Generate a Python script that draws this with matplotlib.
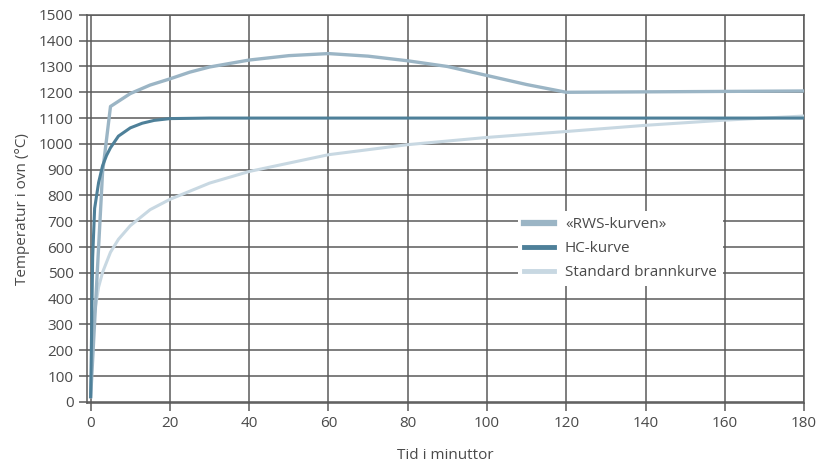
import matplotlib
matplotlib.use('Agg')
import matplotlib.pyplot as plt
from matplotlib import font_manager

# Data (minutes, degrees C)
rws_t = [0, 3, 5, 10, 15, 20, 25, 30, 40, 50, 60, 70, 80, 90, 100, 110, 120, 180]
rws_temp = [20, 890, 1145, 1195, 1228, 1252, 1278, 1298, 1325, 1342, 1350, 1340, 1322, 1300, 1265, 1230, 1200, 1205]

hc_t = [0, 0.5, 1, 2, 3, 4, 5, 7, 10, 13, 16, 20, 30, 60, 180]
hc_temp = [20, 560, 750, 850, 915, 955, 985, 1030, 1062, 1080, 1091, 1098, 1100, 1100, 1100]

std_t = [0, 0.5, 1, 2, 3, 5, 7, 10, 15, 20, 30, 40, 60, 80, 100, 120, 140, 160, 180]
std_temp = [20, 270, 349, 445, 502, 580, 630, 683, 745, 785, 848, 893, 958, 997, 1025, 1048, 1072, 1092, 1108]

series_labels = ['«RWS-kurven»', 'HC-kurve', 'Standard brannkurve']
x_ticks = list(range(0, 181, 20))
y_ticks = list(range(0, 1501, 100))

fam = 'DejaVu Sans'
names = set(f.name for f in font_manager.fontManager.ttflist)
for cand in ['Liberation Sans Narrow', 'Open Sans', 'DejaVu Sans']:
    if cand in names:
        fam = cand
        break
plt.rcParams['font.family'] = [fam, 'DejaVu Sans']

text_col = '#4a4a4a'
grid_col = '#5a5a5a'

fig = plt.figure(figsize=(8.18, 4.65), dpi=100)
ax = fig.add_axes([0.106, 0.133, 0.877, 0.835])

ax.plot(std_t, std_temp, color='#c8d8e2', lw=2.2, label=series_labels[2], zorder=3)
ax.plot(rws_t, rws_temp, color='#9bb5c5', lw=2.4, label=series_labels[0], zorder=4)
ax.plot(hc_t, hc_temp, color='#4e8099', lw=2.2, label=series_labels[1], zorder=5)

ax.set_xlim(-1, 180)
ax.set_ylim(-5, 1500)
ax.set_xticks(x_ticks)
ax.set_yticks(y_ticks)
ax.grid(True, color=grid_col, lw=1.1)
ax.set_axisbelow(True)
for s in ax.spines.values():
    s.set_color(grid_col)
    s.set_linewidth(1.1)
ax.tick_params(axis='both', colors=grid_col, labelcolor=text_col, labelsize=11,
               length=6, width=1.1)

ax.set_xlabel('Tid i minuttor', color=text_col, fontsize=11, labelpad=12)
ax.set_ylabel('Temperatur i ovn (°C)', color=text_col, fontsize=11, labelpad=6)

handles, labels = ax.get_legend_handles_labels()
order = [1, 2, 0]
leg = ax.legend([handles[i] for i in order], [labels[i] for i in order],
                loc='upper left', bbox_to_anchor=(0.59, 0.515), frameon=True,
                fontsize=11, handlelength=2.0, handletextpad=0.7,
                labelspacing=0.6)
leg.get_frame().set_facecolor('white')
leg.get_frame().set_edgecolor('none')
leg.get_frame().set_alpha(1)
for line, w in zip(leg.get_lines(), [4.5, 3.5, 3.5]):
    line.set_linewidth(w)
for t in leg.get_texts():
    t.set_color(text_col)

fig.savefig('out.png', dpi=100)
